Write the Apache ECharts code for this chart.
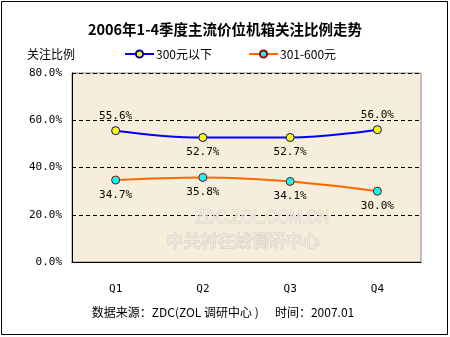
<!DOCTYPE html>
<html>
<head>
<meta charset="utf-8">
<script src="https://cdn.jsdelivr.net/npm/echarts@6/dist/echarts.min.js"></script>
<style>
  html, body { margin: 0; padding: 0; background: #fff; }
  #chart { width: 450px; height: 337px; }
</style>
</head>
<body>
<div id="chart"></div>
<script>
// Quarterly attention share of mainstream-priced PC cases, 2006
var quarters = ['Q1', 'Q2', 'Q3', 'Q4'];
var under300 = [55.6, 52.7, 52.7, 56.0];
var from301to600 = [34.7, 35.8, 34.1, 30.0];
var under300LabelPos = ['top', 'bottom', 'bottom', 'top'];
var from301LabelPos = ['bottom', 'bottom', 'bottom', 'bottom'];
var yTicks = [0, 20, 40, 60, 80];

var numFont = '"DejaVu Sans Mono", "Liberation Mono", monospace';
var cjkFont = '"Noto Sans CJK SC", "Noto Sans", sans-serif';

function withLabels(values, positions) {
  return values.map(function (v, i) {
    return { value: v, label: { position: positions[i] } };
  });
}

var chart = echarts.init(document.getElementById('chart'), null, { renderer: 'canvas' });

chart.setOption({
  backgroundColor: '#ffffff',
  animation: false,
  title: {
    text: '2006年1-4季度主流价位机箱关注比例走势',
    left: 'center',
    top: 17,
    textStyle: { fontFamily: cjkFont, fontSize: 14.5, fontWeight: 'bold', color: '#000' }
  },
  legend: {
    left: 119,
    top: 43,
    itemWidth: 29,
    itemHeight: 9,
    itemGap: 36,
    textStyle: { fontFamily: cjkFont, fontSize: 12, color: '#000', padding: [0, 0, 0, -3] },
    data: ['300元以下', '301-600元']
  },
  grid: {
    left: 72, right: 29, top: 73, bottom: 75,
    show: true,
    backgroundColor: '#f6eddb',
    borderColor: '#8a8a8a',
    borderWidth: 1
  },
  xAxis: {
    type: 'category',
    data: quarters,
    boundaryGap: true,
    axisLine: { lineStyle: { color: '#000', width: 1 } },
    axisTick: { inside: true, length: 5, lineStyle: { color: '#000' } },
    axisLabel: { margin: 22, fontFamily: numFont, fontSize: 11, color: '#000' }
  },
  yAxis: {
    type: 'value',
    min: yTicks[0],
    max: yTicks[yTicks.length - 1],
    interval: 20,
    axisLine: { show: true, lineStyle: { color: '#000', width: 1 } },
    axisTick: { show: false },
    axisLabel: {
      margin: 10,
      fontFamily: numFont, fontSize: 11, color: '#000',
      formatter: function (v) { return v.toFixed(1) + '%'; }
    },
    splitLine: { show: true, lineStyle: { color: '#000', type: [4, 3], width: 1 } }
  },
  series: [
    {
      name: '300元以下',
      type: 'line',
      smooth: 0.4,
      data: withLabels(under300, under300LabelPos),
      symbol: 'circle',
      symbolSize: 8,
      lineStyle: { color: '#0000ff', width: 2 },
      itemStyle: { color: '#ffff00', borderColor: '#000099', borderWidth: 1 },
      label: {
        show: true, distance: 5,
        fontFamily: numFont, fontSize: 11, color: '#000',
        formatter: function (p) { return p.value.toFixed(1) + '%'; }
      },
      z: 3
    },
    {
      name: '301-600元',
      type: 'line',
      smooth: 0.4,
      data: withLabels(from301to600, from301LabelPos),
      symbol: 'circle',
      symbolSize: 8,
      lineStyle: { color: '#ff6600', width: 2 },
      itemStyle: { color: '#00ffff', borderColor: '#990000', borderWidth: 1 },
      label: {
        show: true, distance: 5,
        fontFamily: numFont, fontSize: 11, color: '#000',
        formatter: function (p) { return p.value.toFixed(1) + '%'; }
      },
      z: 3
    }
  ],
  graphic: [
    {
      type: 'rect',
      shape: { x: 1.5, y: 1.5, width: 446, height: 333 },
      style: { fill: 'none', stroke: '#000', lineWidth: 1 },
      silent: true, z: 10
    },
    {
      type: 'text',
      left: 27, top: 48,
      style: { text: '关注比例', font: '12px ' + cjkFont, fill: '#000' }
    },
    {
      type: 'text',
      x: 262, y: 218,
      scaleX: 0.82,
      style: {
        text: 'ZDC.ZOL.COM.CN', font: '19px "Liberation Sans", Arial, sans-serif',
        fill: 'rgba(255,255,255,0.55)', stroke: '#d2cbbe', lineWidth: 1,
        align: 'center', verticalAlign: 'middle'
      },
      z: 1, silent: true
    },
    {
      type: 'text',
      x: 243, y: 241,
      style: {
        text: '中关村在线调研中心', font: '17px ' + cjkFont,
        fill: 'rgba(255,255,255,0.55)', stroke: '#d2cbbe', lineWidth: 1,
        align: 'center', verticalAlign: 'middle'
      },
      z: 1, silent: true
    },
    {
      type: 'text',
      x: 223, y: 312,
      style: {
        text: '数据来源：ZDC(ZOL 调研中心 )      时间：2007.01',
        font: '12px ' + cjkFont, fill: '#000',
        align: 'center', verticalAlign: 'middle'
      }
    }
  ]
});
</script>
</body>
</html>
